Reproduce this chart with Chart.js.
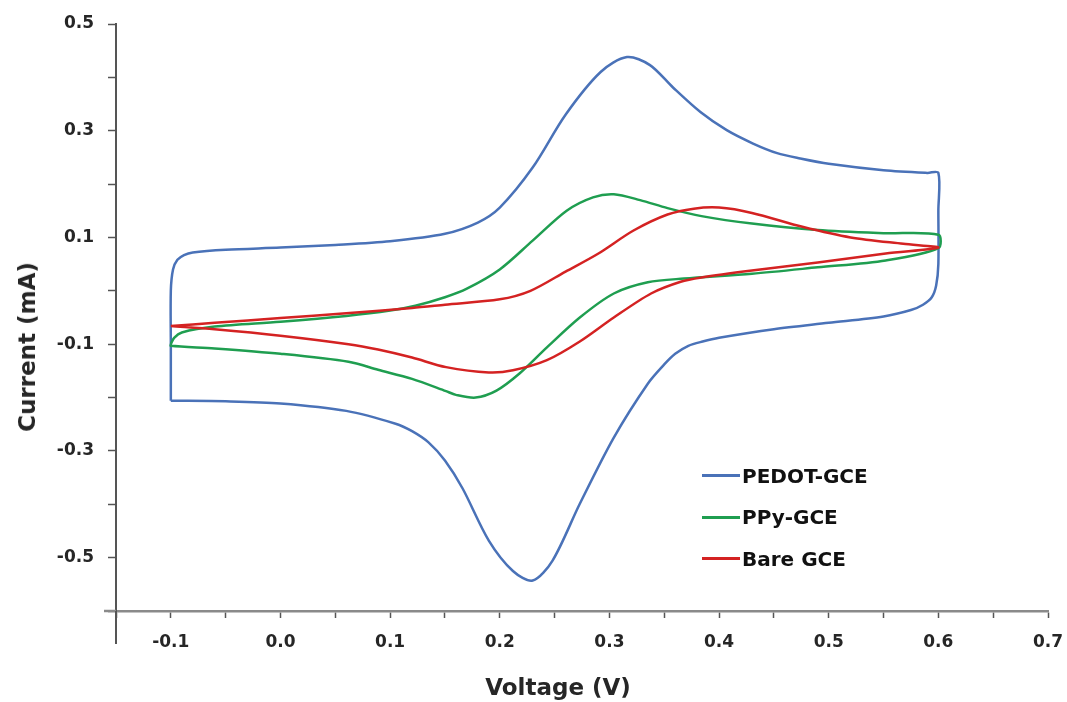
<!DOCTYPE html>
<html>
<head>
<meta charset="utf-8">
<script src="https://cdn.jsdelivr.net/npm/chart.js@4.4.1/dist/chart.umd.min.js"></script>
<style>
  html, body { margin: 0; padding: 0; background: #fff; }
  #wrap { position: relative; width: 1067px; height: 702px; font-family: 'DejaVu Sans', sans-serif; }
  #cv { position: absolute; left: 0; top: 0; }
  .title { position: absolute; font-weight: bold; font-size: 23px; color: #262626; white-space: nowrap; }
  #ytitle { left: 27px; top: 347px; transform: translate(-50%, -50%) rotate(-90deg); }
  #xtitle { left: 558px; top: 687px; transform: translate(-50%, -50%); }
  #legend { position: absolute; left: 702px; top: 455px; }
  .item { display: flex; align-items: center; height: 41.5px; font-weight: bold; font-size: 20px; color: #111; }
  .item span.line { display: inline-block; width: 38px; height: 3px; margin-right: 2px; }
</style>
</head>
<body>
<div id="wrap">
  <canvas id="cv" width="1067" height="702"></canvas>
  <div class="title" id="ytitle">Current (mA)</div>
  <div class="title" id="xtitle">Voltage (V)</div>
  <div id="legend"></div>
</div>
<script>
// Séries (voltage en V, courant en mA)
const seriesNames = ['PEDOT-GCE', 'PPy-GCE', 'Bare GCE'];
const seriesColors = ['#4a72b8', '#1f9e50', '#d42222'];

const pedotV = [-0.1, -0.1, -0.1, -0.098, -0.094, -0.088, -0.08, -0.05, 0, 0.05, 0.1, 0.15, 0.18, 0.2, 0.23, 0.26, 0.292, 0.316, 0.337, 0.358, 0.383, 0.407, 0.431, 0.453, 0.474, 0.5, 0.55, 0.59, 0.6,
                0.6, 0.6, 0.598, 0.594, 0.586, 0.575, 0.55, 0.5, 0.45, 0.4, 0.385, 0.372, 0.36, 0.35, 0.335, 0.304, 0.273, 0.248, 0.23, 0.212, 0.19, 0.166, 0.15, 0.135, 0.12, 0.105, 0.06, 0, -0.05, -0.1];
const pedotI = [-0.206, -0.1, 0.0, 0.04, 0.058, 0.067, 0.072, 0.077, 0.081, 0.086, 0.093, 0.107, 0.128, 0.156, 0.231, 0.33, 0.41, 0.438, 0.423, 0.381, 0.335, 0.301, 0.276, 0.258, 0.248, 0.238, 0.226, 0.221, 0.221,
                0.15, 0.05, 0.01, -0.012, -0.026, -0.036, -0.048, -0.06, -0.072, -0.088, -0.095, -0.103, -0.118, -0.138, -0.174, -0.275, -0.399, -0.506, -0.543, -0.525, -0.468, -0.37, -0.318, -0.284, -0.263, -0.249, -0.225, -0.211, -0.207, -0.206];

const ppyV = [-0.1, -0.097, -0.09, -0.06, 0, 0.06, 0.1, 0.123, 0.15, 0.17, 0.2, 0.23, 0.261, 0.285, 0.304, 0.328, 0.353, 0.384, 0.43, 0.49, 0.55, 0.6,
              0.6, 0.552, 0.49, 0.43, 0.368, 0.335, 0.304, 0.273, 0.243, 0.218, 0.197, 0.178, 0.16, 0.151, 0.12, 0.089, 0.062, 0, -0.06, -0.1, -0.1];
const ppyI = [-0.1, -0.088, -0.078, -0.067, -0.058, -0.047, -0.037, -0.028, -0.012, 0.004, 0.04, 0.094, 0.15, 0.175, 0.181, 0.17, 0.155, 0.14, 0.126, 0.114, 0.108, 0.105,
              0.08, 0.057, 0.044, 0.032, 0.023, 0.016, -0.005, -0.05, -0.106, -0.155, -0.187, -0.2, -0.195, -0.188, -0.165, -0.148, -0.133, -0.118, -0.108, -0.103, -0.1];

const bareV = [-0.1, -0.06, 0, 0.06, 0.12, 0.15, 0.2, 0.228, 0.26, 0.29, 0.322, 0.353, 0.377, 0.4, 0.43, 0.476, 0.52, 0.568, 0.6,
               0.552, 0.49, 0.43, 0.384, 0.365, 0.338, 0.304, 0.273, 0.243, 0.212, 0.19, 0.151, 0.12, 0.089, 0.062, 0, -0.06, -0.1];
const bareI = [-0.066, -0.06, -0.051, -0.042, -0.032, -0.026, -0.016, 0.0, 0.036, 0.07, 0.113, 0.143, 0.154, 0.156, 0.146, 0.12, 0.1, 0.088, 0.081,
               0.07, 0.053, 0.038, 0.025, 0.017, -0.005, -0.05, -0.095, -0.13, -0.149, -0.153, -0.143, -0.125, -0.11, -0.1, -0.084, -0.072, -0.066];

// Graduations des axes
const xMin = -0.15, xMax = 0.7, xStep = 0.05;
const yMin = -0.6, yMax = 0.5, yStep = 0.1;

function toPoints(vs, is) {
    return vs.map((v, k) => ({ x: v, y: is[k] }));
}

const curves = [toPoints(pedotV, pedotI), toPoints(ppyV, ppyI), toPoints(bareV, bareI)];

// Prolongement des axes façon Excel
const axisOverhang = {
    id: 'axisOverhang',
    afterDraw(chart) {
        const { ctx, chartArea } = chart;
        ctx.save();
        ctx.strokeStyle = '#8a8a8a';
        ctx.lineWidth = 2.5;
        ctx.beginPath();
        ctx.moveTo(chartArea.left - 12, chartArea.bottom);
        ctx.lineTo(chartArea.left, chartArea.bottom);
        ctx.stroke();
        ctx.strokeStyle = '#555';
        ctx.lineWidth = 2;
        ctx.beginPath();
        ctx.moveTo(chartArea.left, chartArea.bottom);
        ctx.lineTo(chartArea.left, chartArea.bottom + 33);
        ctx.stroke();
        ctx.restore();
    }
};

Chart.defaults.font.family = "'DejaVu Sans', sans-serif";

const chart = new Chart(document.getElementById('cv'), {
    type: 'scatter',
    data: {
        datasets: seriesNames.map((name, k) => ({
            label: name,
            data: curves[k],
            showLine: true,
            borderColor: seriesColors[k],
            backgroundColor: seriesColors[k],
            borderWidth: 2.5,
            pointRadius: 0,
            tension: 0.3,
            order: k === 2 ? 0 : (k === 1 ? 1 : 2)
        }))
    },
    options: {
        responsive: false,
        animation: false,
        layout: { padding: { left: 0, top: 24, right: 19, bottom: 0 } },
        plugins: { legend: { display: false }, tooltip: { enabled: false } },
        scales: {
            x: {
                type: 'linear',
                min: xMin,
                max: xMax,
                afterFit: s => { s.height = 91; s.paddingLeft = 0; s.paddingRight = 0; },
                border: { display: true, color: '#8a8a8a', width: 2.5 },
                grid: { drawOnChartArea: false, drawTicks: true, tickLength: 7, tickColor: '#555', tickWidth: 1.5 },
                ticks: {
                    stepSize: xStep,
                    padding: 14,
                    color: '#262626',
                    font: { size: 17, weight: 'bold' },
                    autoSkip: false,
                    maxRotation: 0,
                    callback: v => (Math.round(v * 20) % 2 === 0 ? v.toFixed(1) : '')
                }
            },
            y: {
                type: 'linear',
                min: yMin,
                max: yMax,
                afterFit: s => { s.width = 116; s.paddingTop = 0; s.paddingBottom = 0; },
                border: { display: true, color: '#555', width: 2 },
                grid: { drawOnChartArea: false, drawTicks: true, tickLength: 8, tickColor: '#555', tickWidth: 1.5 },
                ticks: {
                    stepSize: yStep,
                    padding: 14,
                    color: '#262626',
                    font: { size: 17, weight: 'bold' },
                    autoSkip: false,
                    callback: v => (Math.abs(Math.round(v * 10)) % 2 === 1 ? v.toFixed(1) : '')
                }
            }
        }
    },
    plugins: [axisOverhang]
});

// Légende HTML dans la zone du graphique
const legendBox = document.getElementById('legend');
seriesNames.forEach((name, k) => {
    const row = document.createElement('div');
    row.className = 'item';
    const line = document.createElement('span');
    line.className = 'line';
    line.style.background = seriesColors[k];
    row.appendChild(line);
    row.appendChild(document.createTextNode(name));
    legendBox.appendChild(row);
});
</script>
</body>
</html>
